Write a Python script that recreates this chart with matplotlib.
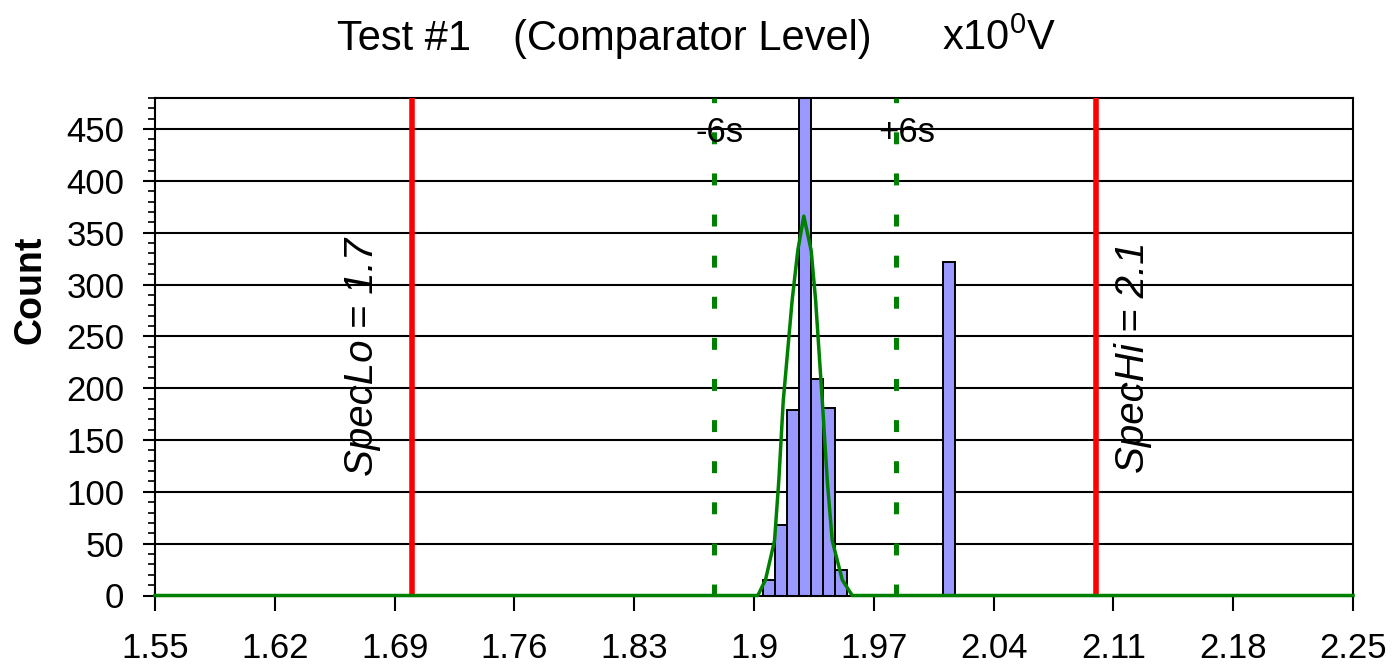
import matplotlib
matplotlib.use('Agg')
import matplotlib.pyplot as plt
from matplotlib.ticker import MultipleLocator, FixedLocator

plt.rcParams['font.family'] = ['Liberation Sans', 'DejaVu Sans']
plt.rcParams['mathtext.fontset'] = 'custom'
plt.rcParams['mathtext.rm'] = 'Liberation Sans'

# ---- data ----
bin_centers = [1.909, 1.916, 1.923, 1.930, 1.937, 1.944, 1.951, 2.014]
counts = [15, 68, 179, 520, 209, 181, 25, 322]
bin_width = 0.007

curve_x = [1.55, 1.9022, 1.9067, 1.9120, 1.9145, 1.9171, 1.9223, 1.9256, 1.9291,
           1.9334, 1.9360, 1.9399, 1.9428, 1.9457, 1.9516, 1.9574, 2.25]
curve_y = [0, 0, 15, 53, 111, 188, 285, 333, 366,
           333, 285, 188, 111, 53, 15, 0, 0]

spec_lo = 1.7
spec_hi = 2.1
minus_6s = 1.8764
plus_6s = 1.9828

x_ticks = [1.55, 1.62, 1.69, 1.76, 1.83, 1.90, 1.97, 2.04, 2.11, 2.18, 2.25]
x_tick_labels = ['1.55', '1.62', '1.69', '1.76', '1.83', '1.9', '1.97', '2.04', '2.11', '2.18', '2.25']
y_ticks = [0, 50, 100, 150, 200, 250, 300, 350, 400, 450]

W, H = 1397, 668
fig = plt.figure(figsize=(W / 100, H / 100), dpi=100)
ax = fig.add_axes([155 / W, 1 - 595.5 / H, (1353 - 155) / W, (595.5 - 98) / H])

ax.set_xlim(1.55, 2.25)
ax.set_ylim(0, 480)

# grid
ax.set_axisbelow(True)
ax.yaxis.grid(True, color='black', linewidth=1.5)

# bars
ax.bar(bin_centers, counts, width=bin_width, color='#9999FF', edgecolor='black',
       linewidth=1.4, zorder=2)

# spec lines
ax.axvline(spec_lo, color='#FF0000', linewidth=4, zorder=3)
ax.axvline(spec_hi, color='#FF0000', linewidth=4, zorder=3)

# +-6 sigma lines
lw_d = 3.6
ax.plot([minus_6s, minus_6s], [0, 480], color='#008000', linewidth=lw_d,
        linestyle=(0, (8.6 / lw_d, 21 / lw_d)), solid_capstyle='butt', zorder=3)
ax.plot([plus_6s, plus_6s], [0, 480], color='#008000', linewidth=lw_d,
        linestyle=(0, (8.6 / lw_d, 21 / lw_d)), solid_capstyle='butt', zorder=3)

# fitted curve
ax.plot(curve_x, curve_y, color='#008000', linewidth=2.5, zorder=4, clip_on=False)

# annotations
ax.text(1.6710, 230, 'SpecLo = 1.7', rotation=90, style='italic', fontsize=29,
        ha='center', va='center', zorder=5)
ax.text(2.1215, 230, 'SpecHi = 2.1', rotation=90, style='italic', fontsize=29,
        ha='center', va='center', zorder=5)
ax.text(1.8796, 447, '-6s', fontsize=25, ha='center', va='center', zorder=5)
ax.text(1.9895, 447, '+6s', fontsize=25, ha='center', va='center', zorder=5)

# ticks
ax.xaxis.set_major_locator(FixedLocator(x_ticks))
ax.set_xticklabels(x_tick_labels)
ax.yaxis.set_major_locator(FixedLocator(y_ticks))
ax.yaxis.set_minor_locator(MultipleLocator(10))
ax.tick_params(axis='x', which='major', direction='out', length=11, width=1.5,
               pad=15, labelsize=25)
ax.tick_params(axis='y', which='major', direction='out', length=9, width=1.5,
               pad=13, labelsize=25)
ax.tick_params(axis='y', which='minor', direction='out', length=5, width=1.2)
ax.tick_params(top=False, right=False)

for s in ax.spines.values():
    s.set_linewidth(1.5)
    s.set_color('black')

# y label
fig.text(30 / W, 1 - 290 / H, 'Count', rotation=90, fontweight='bold', fontsize=27,
         ha='center', va='center')

# title pieces
ty = 1 - 50 / H
fig.text(337 / W, ty, 'Test #1', fontsize=30, ha='left', va='baseline')
fig.text(513 / W, ty, '(Comparator Level)', fontsize=30, ha='left', va='baseline')
fig.text(942 / W, ty, r'x10$^{\mathregular{0}}$V', fontsize=30, ha='left', va='baseline')

fig.savefig('out.png', dpi=100)
